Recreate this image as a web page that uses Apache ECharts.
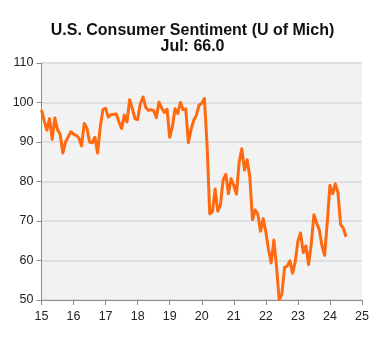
<!DOCTYPE html>
<html><head><meta charset="utf-8">
<script src="https://cdn.jsdelivr.net/npm/echarts@6/dist/echarts.min.js"></script>
<style>html,body{margin:0;padding:0;background:#fff}#c{width:385px;height:337px}</style>
</head><body><div id="c"></div>
<script>
const titleText = "U.S. Consumer Sentiment (U of Mich)";
const subtitleText = "Jul: 66.0";
const startYear = 15; // Jan 2015
const sentiment = [
  98.1, 95.4, 93.0, 95.9, 90.7, 96.1, 93.1, 91.9, 87.2, 90.0, 91.3, 92.6,
  92.0, 91.7, 91.0, 89.0, 94.7, 93.5, 90.0, 89.8, 91.2, 87.2, 93.8, 98.2,
  98.5, 96.3, 96.9, 97.0, 97.1, 95.1, 93.4, 96.8, 95.1, 100.7, 98.5, 95.9,
  95.7, 99.7, 101.4, 98.8, 98.0, 98.2, 97.9, 96.2, 100.1, 98.6, 97.5, 98.3,
  91.2, 93.8, 98.4, 97.2, 100.0, 98.2, 98.4, 89.8, 93.2, 95.5, 96.8, 99.3,
  99.8, 101.0, 89.1, 71.8, 72.3, 78.1, 72.5, 74.1, 80.4, 81.8, 76.9, 80.7,
  79.0, 76.8, 84.9, 88.3, 82.9, 85.5, 81.2, 70.3, 72.8, 71.7, 67.4, 70.6,
  67.2, 62.8, 59.4, 65.2, 58.4, 50.0, 51.5, 58.2, 58.6, 59.9, 56.8, 59.7,
  64.9, 67.0, 62.0, 63.7, 59.0, 64.2, 71.6, 69.5, 67.8, 63.8, 61.3, 69.7,
  79.0, 76.9, 79.4, 77.2, 69.1, 68.2, 66.0
];
const xTicks = [15, 16, 17, 18, 19, 20, 21, 22, 23, 24, 25];
const yTicks = [50, 60, 70, 80, 90, 100, 110];

const seriesData = sentiment.map((v, i) => [startYear + i / 12, v]);
const chart = echarts.init(document.getElementById('c'), null, {renderer: 'canvas'});
const font = 'Liberation Sans, Arial, sans-serif';
chart.setOption({
  animation: false,
  backgroundColor: '#fff',
  title: {
    text: titleText + '\n' + subtitleText,
    left: 'center', top: 18,
    textStyle: {fontFamily: font, fontSize: 16, fontWeight: 'bold', color: '#111', lineHeight: 16}
  },
  grid: {left: 41.5, right: 23, top: 63, bottom: 37, show: true, backgroundColor: '#F2F2F2', borderWidth: 0},
  xAxis: {
    type: 'value', min: xTicks[0], max: xTicks[xTicks.length - 1], interval: 1,
    axisLine: {show: true, lineStyle: {color: '#8C8C8C', width: 1}},
    axisTick: {show: true, length: 5, lineStyle: {color: '#8C8C8C'}},
    axisLabel: {color: '#222', fontFamily: font, fontSize: 12.5, margin: 10, formatter: v => String(v)},
    splitLine: {show: false}
  },
  yAxis: {
    type: 'value', min: yTicks[0], max: yTicks[yTicks.length - 1], interval: 10,
    axisLine: {show: true, lineStyle: {color: '#8C8C8C', width: 1}},
    axisTick: {show: true, length: 5, lineStyle: {color: '#8C8C8C'}},
    axisLabel: {color: '#222', fontFamily: font, fontSize: 12.5, margin: 8},
    splitLine: {show: true, lineStyle: {color: '#D9D9D9', width: 1.5}}
  },
  series: [{
    type: 'line', data: seriesData, showSymbol: false, symbol: 'none',
    lineStyle: {color: '#FF6A10', width: 3, join: 'round'}
  }]
});
</script></body></html>
